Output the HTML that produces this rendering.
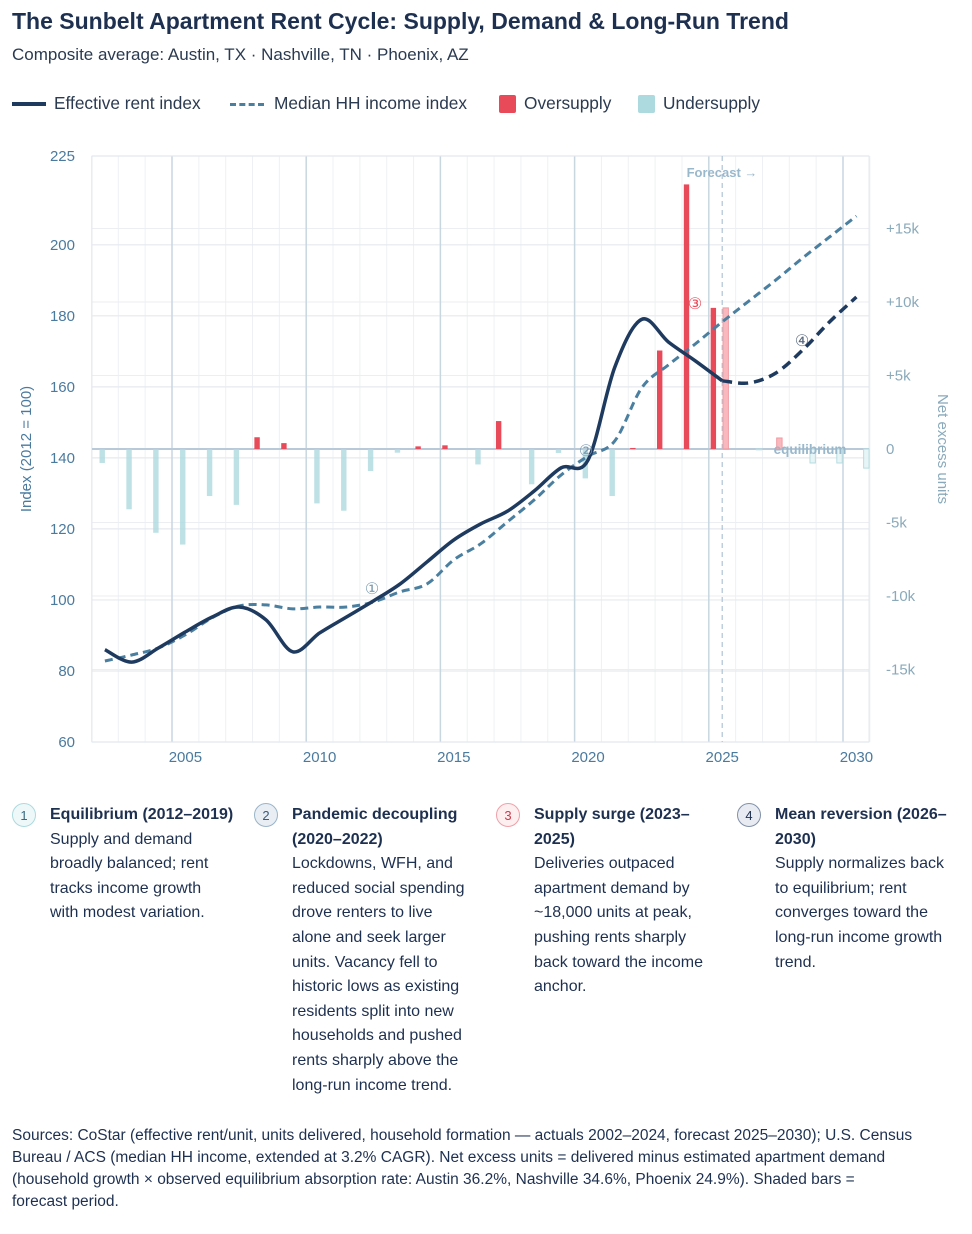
<!DOCTYPE html>
<html><head><meta charset="utf-8"><style>
body{margin:0;background:#fff;font-family:"Liberation Sans",sans-serif;color:#1e3050;width:972px;height:1234px;overflow:hidden;position:relative}
.t{position:absolute;left:12px;top:8px;font-size:23px;font-weight:bold;color:#1e3050}
.s{position:absolute;left:12px;top:45px;font-size:17px;color:#2a3a50}
.leg{position:absolute;top:93px;font-size:17.3px;color:#2a3a50;white-space:nowrap}
.col{position:absolute;top:803px;width:172px;font-size:16px;line-height:24.6px;color:#1e3050}
.col b{display:block}
.num{position:absolute;left:-38px;top:0;width:24px;height:24px;border-radius:50%;font-size:13px;text-align:center;line-height:24px;box-sizing:border-box}
.src{position:absolute;left:12px;top:1125px;width:940px;font-size:15.5px;line-height:22px;color:#1e3050}
</style></head><body>
<div class="t">The Sunbelt Apartment Rent Cycle: Supply, Demand &amp; Long-Run Trend</div>
<div class="s">Composite average: Austin, TX · Nashville, TN · Phoenix, AZ</div>
<div class="leg" style="left:12px"><span style="display:inline-block;width:34px;height:4px;background:#1e3a5f;vertical-align:middle;margin-right:8px"></span>Effective rent index</div>
<div class="leg" style="left:230px"><span style="display:inline-block;width:34px;border-top:3px dashed #4a7fa0;vertical-align:middle;margin-right:10px"></span>Median HH income index</div>
<div class="leg" style="left:499px"><span style="display:inline-block;width:17px;height:18px;background:#e84a5a;border-radius:2px;vertical-align:middle;margin-right:8px"></span>Oversupply</div>
<div class="leg" style="left:638px"><span style="display:inline-block;width:17px;height:18px;background:#acdade;border-radius:2px;vertical-align:middle;margin-right:8px"></span>Undersupply</div>

<svg id="c" width="972" height="790" style="position:absolute;left:0;top:0"></svg>

<div class="col" style="left:50px;width:172px"><span class="num" style="border:1.5px solid #acdade;background:#eef8f9;color:#3a6a80">1</span><b style="white-space:nowrap">Equilibrium (2012–2019)</b>Supply and demand broadly balanced; rent tracks income growth with modest variation.</div>
<div class="col" style="left:292px;width:180px"><span class="num" style="border:1.5px solid #9ab4c8;background:#e8eef4;color:#3a5a78">2</span><b>Pandemic decoupling (2020–2022)</b>Lockdowns, WFH, and reduced social spending drove renters to live alone and seek larger units. Vacancy fell to historic lows as existing residents split into new households and pushed rents sharply above the long-run income trend.</div>
<div class="col" style="left:534px;width:172px"><span class="num" style="border:1.5px solid #f0a0a8;background:#fdeef0;color:#d03848">3</span><b>Supply surge (2023–2025)</b>Deliveries outpaced apartment demand by ~18,000 units at peak, pushing rents sharply back toward the income anchor.</div>
<div class="col" style="left:775px;width:185px"><span class="num" style="border:1.5px solid #8090a8;background:#e8ecf2;color:#1e3050">4</span><b>Mean reversion (2026–2030)</b>Supply normalizes back to equilibrium; rent converges toward the long-run income growth trend.</div>
<div class="src">Sources: CoStar (effective rent/unit, units delivered, household formation — actuals 2002–2024, forecast 2025–2030); U.S. Census Bureau / ACS (median HH income, extended at 3.2% CAGR). Net excess units = delivered minus estimated apartment demand (household growth × observed equilibrium absorption rate: Austin 36.2%, Nashville 34.6%, Phoenix 24.9%). Shaded bars =<br>forecast period.</div>

<script>
const years=[2002,2003,2004,2005,2006,2007,2008,2009,2010,2011,2012,2013,2014,2015,2016,2017,2018,2019,2020,2021,2022,2023,2024,2025,2026,2027,2028,2029,2030];
const rent=[86,82.5,86.5,91,95.2,98,94.4,85.4,90.7,95.2,99.7,104.5,110.7,116.9,121.4,125,130.7,137.2,139.4,165.6,179,172.6,167.3,161.7,161.1,163.9,170.4,178.3,185.3];
const income=[82.8,84.5,86.5,90.2,95,98.3,98.6,97.5,98,98,99.4,102.3,104.5,111.3,115.8,122,128.2,135.2,140.5,144.8,159.7,166.2,172.1,178.3,184.2,190.1,196.3,202.2,208.1];
const excessActual=[-0.95,-4.1,-5.7,-6.5,-3.2,-3.8,0.8,0.4,-3.7,-4.2,-1.5,-0.25,0.18,0.25,-1.05,1.9,-2.4,-0.27,-2.0,-3.2,0.07,6.7,18.0,9.6];
const actualYears=years.slice(0,24);
const forecastYears=[2025,2026,2027,2028,2029,2030];
const excessForecast=[9.6,-0.05,0.75,-0.95,-0.95,-1.3];
const leftTicks=[60,80,100,120,140,160,180,200,225];
const rightTicks=[-15,-10,-5,0,5,10,15];
const rightLabels=["-15k","-10k","-5k","0","+5k","+10k","+15k"];
const xTicks=[2005,2010,2015,2020,2025,2030];

const svg=document.getElementById('c');const NS='http://www.w3.org/2000/svg';
const X0=92,X1=869,Y0=156,Y1=742;
const xg=y=>172+(y-2005)*26.84;
const xc=y=>xg(y)+13.42;
const yl=v=>Y0+(225-v)*(Y1-Y0)/165;
const yr=v=>449-v*14.7;
function el(t,a,p){const e=document.createElementNS(NS,t);for(const k in a)e.setAttribute(k,a[k]);(p||svg).appendChild(e);return e;}
function line(x1,y1,x2,y2,st,w,d){return el('line',{x1,y1,x2,y2,stroke:st,'stroke-width':w,'stroke-dasharray':d||''});}
for(let y=2002;y<=2031;y++){const l=line(xg(y),Y0,xg(y),Y1,'#eef1f4',1);}
leftTicks.forEach(v=>{const l=line(X0,yl(v),X1,yl(v),'#e6e9ee',1.2);
 const t=el('text',{x:75,y:yl(v)+5,'text-anchor':'end','font-size':15,fill:'#4a7a9e'});t.textContent=v;});
rightTicks.forEach((v,i)=>{if(v!==0){const l=line(X0,yr(v),X1,yr(v),'#eceef2',1);}
 const t=el('text',{x:886,y:yr(v)+5,'font-size':15,fill:'#8aaabb'});t.textContent=rightLabels[i];});
xTicks.forEach(y=>{const l=line(xg(y),Y0,xg(y),Y1,'#c8d6e0',1.5);
 const t=el('text',{x:xc(y),y:762,'text-anchor':'middle','font-size':15,fill:'#4a7a9e'});t.textContent=y;});
el('rect',{x:X0,y:Y0,width:X1-X0,height:Y1-Y0,fill:'none',stroke:'#e4e8ec'});
const zl=line(X0,yr(0),X1,yr(0),'#b8cad8',2);
const fl=line(xc(2025),Y0,xc(2025),Y1,'#b0c4d4',1.2,'5,4');
function bar(yv,v,off,fc,op,stroke){const x=xg(yv)+off*26.84-2.7,y1=yr(Math.max(v,0)),h=Math.abs(yr(v)-yr(0));
 return el('rect',{x,y:y1,width:5.4,height:Math.max(h,0.8),fill:fc,'fill-opacity':op,stroke:stroke||'none','stroke-width':1});}
actualYears.forEach((y,i)=>{const v=excessActual[i];const b=v>=0?bar(y,v,0.17,'#e84a5a',1):bar(y,v,0.4,'#acdade',0.8);
 });
forecastYears.forEach((y,i)=>{const v=excessForecast[i];const b=v>=0?bar(y,v,0.63,'#f8b0b6',0.9,'#f29aa2'):bar(y,v,0.87,'#e4f4f5',0.9,'#b6dde0');
 });
function path(xs,ys){let d='M'+xs[0]+','+ys[0];for(let i=0;i<xs.length-1;i++){const p0=i?i-1:i,p3=i+2<xs.length?i+2:i+1;
 const c1x=xs[i]+(xs[i+1]-xs[p0])/6,c1y=ys[i]+(ys[i+1]-ys[p0])/6,c2x=xs[i+1]-(xs[p3]-xs[i])/6,c2y=ys[i+1]-(ys[p3]-ys[i])/6;
 d+=' C'+c1x+','+c1y+' '+c2x+','+c2y+' '+xs[i+1]+','+ys[i+1];}return d;}
const ip=el('path',{d:path(years.map(xc),income.map(yl)),fill:'none',stroke:'#4a7fa0','stroke-width':3,'stroke-dasharray':'8,5'});

const ai=years.indexOf(2025);
const ra=el('path',{d:path(years.slice(0,ai+1).map(xc),rent.slice(0,ai+1).map(yl)),fill:'none',stroke:'#1e3a5f','stroke-width':3.5,'stroke-linejoin':'round'});

const rf=el('path',{d:path(years.slice(ai).map(xc),rent.slice(ai).map(yl)),fill:'none',stroke:'#1e3a5f','stroke-width':3.5,'stroke-dasharray':'10,6'});

function txt(x,y,s,a){const t=el('text',a);t.setAttribute('x',x);t.setAttribute('y',y);t.textContent=s;return t;}
let t=txt(722,177,'Forecast →',{'text-anchor':'middle','font-size':13,'font-weight':'bold',fill:'#9ab8cc'});
t=txt(810,454,'equilibrium',{'text-anchor':'middle','font-size':13.5,'font-weight':'bold',fill:'#9ab8cc'});
[[372,594,'①','#7a9ab0'],[586,456,'②','#7a9ab0'],[695,309,'③','#e84a5a'],[802,346,'④','#5a6a80']].forEach(a=>{t=txt(a[0],a[1],a[2],{'text-anchor':'middle','font-size':16,fill:a[3]});
 });
t=txt(0,0,'Index (2012 = 100)',{transform:'translate(31,449) rotate(-90)','text-anchor':'middle','font-size':15,fill:'#4a7a9e'});
t=txt(0,0,'Net excess units',{transform:'translate(938,449) rotate(90)','text-anchor':'middle','font-size':15,fill:'#8aaabb'});
</script>
</body></html>
